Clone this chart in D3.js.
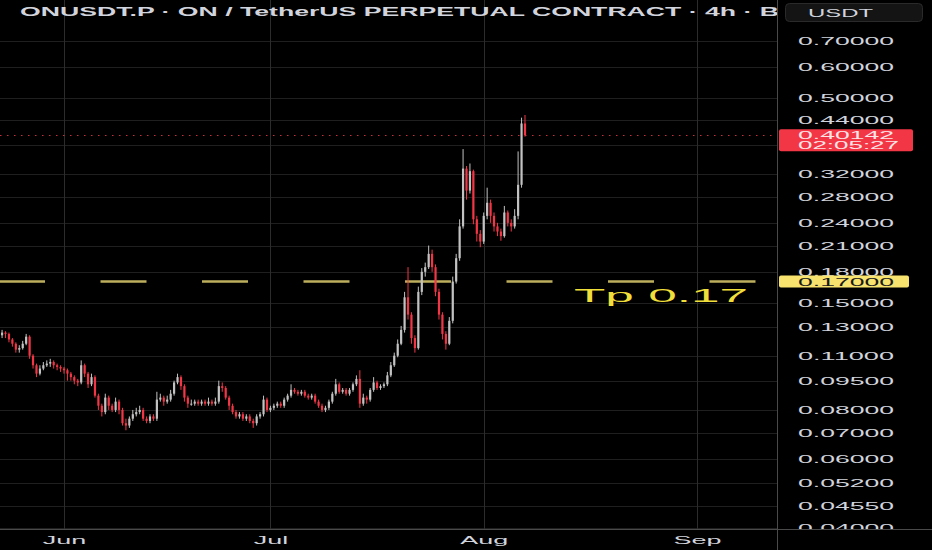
<!DOCTYPE html>
<html><head><meta charset="utf-8">
<script src="https://cdn.jsdelivr.net/npm/d3@7"></script>
<style>html,body{margin:0;padding:0;background:#000;}svg{display:block}</style>
</head><body>
<svg id="c" width="932" height="550"></svg>
<script>
// ---- data ----
const title = "ONUSDT.P · ON / TetherUS PERPETUAL CONTRACT · 4h · B";
const currency = "USDT";
const firstCandle = Date.UTC(2025, 4, 22, 12); // 12h candles
const stepHours = 12;
const firstOpen = 0.122;
const closes = [0.124,0.126,0.125,0.121,0.118,0.114,0.115,0.118,0.123,0.110,
0.104,0.099,0.102,0.104,0.105,0.106,0.104,0.103,0.102,0.101,
0.099,0.097,0.095,0.094,0.104,0.099,0.093,0.097,0.087,0.082,
0.079,0.086,0.082,0.080,0.084,0.080,0.074,0.073,0.076,0.078,
0.079,0.080,0.076,0.075,0.077,0.076,0.085,0.086,0.084,0.085,
0.088,0.094,0.097,0.092,0.086,0.083,0.083,0.084,0.083,0.084,
0.083,0.084,0.083,0.084,0.092,0.091,0.086,0.082,0.079,0.077,
0.078,0.076,0.077,0.075,0.074,0.077,0.078,0.085,0.080,0.081,
0.082,0.083,0.082,0.085,0.087,0.090,0.089,0.088,0.089,0.087,
0.086,0.087,0.084,0.082,0.080,0.081,0.084,0.088,0.093,0.089,
0.090,0.088,0.090,0.093,0.096,0.083,0.086,0.085,0.090,0.094,
0.091,0.092,0.093,0.098,0.104,0.110,0.118,0.128,0.155,0.140,
0.122,0.115,0.160,0.180,0.185,0.200,0.185,0.160,0.140,0.125,
0.118,0.135,0.170,0.195,0.235,0.330,0.290,0.325,0.245,0.225,
0.215,0.250,0.270,0.250,0.235,0.228,0.222,0.255,0.240,0.235,
0.250,0.300,0.430,0.40142];
const highs = [0.128,0.128,0.127,0.126,0.122,0.119,0.117,0.120,0.125,0.124,
0.111,0.105,0.104,0.106,0.107,0.108,0.107,0.105,0.104,0.103,
0.102,0.100,0.098,0.096,0.107,0.105,0.100,0.099,0.098,0.088,
0.083,0.088,0.087,0.083,0.086,0.085,0.081,0.076,0.077,0.080,
0.081,0.082,0.081,0.077,0.078,0.078,0.089,0.088,0.087,0.087,
0.090,0.095,0.099,0.098,0.093,0.087,0.085,0.085,0.085,0.085,
0.085,0.086,0.085,0.086,0.095,0.094,0.092,0.087,0.083,0.080,
0.079,0.079,0.078,0.078,0.076,0.078,0.079,0.087,0.086,0.082,
0.083,0.084,0.084,0.086,0.088,0.093,0.091,0.090,0.090,0.090,
0.088,0.088,0.088,0.085,0.083,0.082,0.085,0.089,0.096,0.094,
0.091,0.091,0.091,0.094,0.098,0.101,0.088,0.087,0.091,0.097,
0.095,0.093,0.094,0.100,0.106,0.112,0.121,0.131,0.160,0.185,
0.142,0.124,0.165,0.184,0.190,0.210,0.205,0.188,0.163,0.142,
0.127,0.138,0.175,0.200,0.245,0.370,0.335,0.340,0.328,0.250,
0.230,0.255,0.295,0.275,0.255,0.240,0.232,0.265,0.258,0.245,
0.260,0.365,0.445,0.452];
const lows = [0.120,0.122,0.122,0.119,0.116,0.112,0.112,0.114,0.117,0.108,
0.102,0.097,0.098,0.101,0.103,0.103,0.102,0.101,0.100,0.099,
0.095,0.095,0.093,0.092,0.093,0.097,0.091,0.092,0.086,0.080,
0.077,0.078,0.080,0.079,0.079,0.078,0.073,0.071,0.072,0.075,
0.077,0.078,0.075,0.074,0.074,0.075,0.075,0.084,0.082,0.083,
0.084,0.087,0.093,0.090,0.084,0.081,0.082,0.082,0.082,0.082,
0.082,0.082,0.082,0.082,0.083,0.089,0.085,0.080,0.078,0.076,
0.076,0.075,0.075,0.074,0.072,0.073,0.076,0.077,0.079,0.079,
0.080,0.081,0.081,0.081,0.084,0.086,0.088,0.087,0.087,0.086,
0.085,0.085,0.083,0.081,0.079,0.079,0.080,0.083,0.087,0.088,
0.088,0.087,0.087,0.089,0.092,0.081,0.082,0.083,0.084,0.089,
0.090,0.090,0.091,0.092,0.097,0.103,0.109,0.117,0.126,0.136,
0.118,0.112,0.114,0.157,0.175,0.183,0.180,0.156,0.136,0.121,
0.114,0.117,0.133,0.168,0.192,0.232,0.275,0.285,0.238,0.215,
0.208,0.212,0.245,0.240,0.228,0.222,0.216,0.220,0.235,0.228,
0.232,0.245,0.295,0.398];
// 0.38 tick sits under the last-price label (its label is hidden there)
const priceTicks = [0.70,0.60,0.50,0.44,0.38,0.32,0.28,0.24,0.21,0.18,0.15,0.13,0.11,0.095,0.08,0.07,0.06,0.052,0.0455,0.04];
const hiddenTicks = [0.38];
const monthTicks = [Date.UTC(2025,5,1), Date.UTC(2025,6,1), Date.UTC(2025,7,1), Date.UTC(2025,8,1)];
const lastPrice = 0.40142;
const countdown = "02:05:27";
const tpLevel = 0.17;
const tpText = "Tp 0.17";

// ---- layout ----
const W = 932, H = 550, plotR = 777, plotB = 529;
const FONT = "Liberation Sans, Arial, sans-serif";
const svg = d3.select("#c");
svg.append("rect").attr("width", W).attr("height", H).attr("fill", "#000");

const x = d3.scaleUtc().domain([monthTicks[0], monthTicks[3]]).range([64, 697]);
const y = d3.scaleLog().domain([0.04, 0.70]).range([528, 40.5]);

const candles = closes.map((c, i) => ({
  t: firstCandle + i * stepHours * 3600e3,
  o: i ? closes[i - 1] : firstOpen, h: highs[i], l: lows[i], c
}));

const defs = svg.append("defs");
defs.append("clipPath").attr("id", "plot").append("rect").attr("x", 0).attr("y", 0).attr("width", plotR).attr("height", plotB);
defs.append("clipPath").attr("id", "axisclip").append("rect").attr("x", plotR).attr("y", 0).attr("width", W - plotR).attr("height", plotB);

// grid
const grid = svg.append("g").attr("clip-path", "url(#plot)");
grid.selectAll("line.h").data(priceTicks).join("line")
  .attr("x1", 0).attr("x2", plotR).attr("y1", d => Math.round(y(d)) + 0.5).attr("y2", d => Math.round(y(d)) + 0.5)
  .attr("stroke", "#1f1f1f").attr("stroke-width", 1);
grid.selectAll("line.v").data(monthTicks).join("line")
  .attr("y1", 0).attr("y2", plotB).attr("x1", d => Math.round(x(d)) + 0.5).attr("x2", d => Math.round(x(d)) + 0.5)
  .attr("stroke", "#2c2c2c").attr("stroke-width", 1);

// tp dashed line
grid.append("line").attr("x1", -1).attr("x2", plotR).attr("y1", y(tpLevel)).attr("y2", y(tpLevel))
  .attr("stroke", "#bcae5c").attr("stroke-width", 2.5).attr("stroke-dasharray", "46,55.5");

// last price dotted line
grid.append("line").attr("x1", 0).attr("x2", plotR).attr("y1", Math.round(y(lastPrice)) + 0.5).attr("y2", Math.round(y(lastPrice)) + 0.5)
  .attr("stroke", "#c8303c").attr("stroke-width", 1).attr("stroke-dasharray", "1.5,5.5");

// candles
const cg = svg.append("g").attr("clip-path", "url(#plot)");
const col = d => d.c >= d.o ? "#c2c2c2" : "#f23645";
cg.selectAll("line.w").data(candles).join("line")
  .attr("x1", d => x(d.t)).attr("x2", d => x(d.t))
  .attr("y1", d => y(d.h)).attr("y2", d => y(d.l))
  .attr("stroke", col).attr("stroke-width", 1);
cg.selectAll("rect.b").data(candles).join("rect")
  .attr("x", d => x(d.t) - 1.1).attr("width", 2.2)
  .attr("y", d => y(Math.max(d.o, d.c)))
  .attr("height", d => Math.max(1, Math.abs(y(d.o) - y(d.c))))
  .attr("fill", col);

// Tp text
svg.append("text").attr("x", 574).attr("y", 302).text(tpText)
  .attr("font-family", FONT).attr("font-size", 18)
  .attr("fill", "#f0de3a").attr("textLength", 174).attr("lengthAdjust", "spacingAndGlyphs");

// separators
svg.append("line").attr("x1", plotR + 0.5).attr("x2", plotR + 0.5).attr("y1", 0).attr("y2", H).attr("stroke", "#4a4a4a");
svg.append("line").attr("x1", 0).attr("x2", W).attr("y1", plotB + 0.5).attr("y2", plotB + 0.5).attr("stroke", "#4a4a4a");

// price axis
const ya = svg.append("g").attr("clip-path", "url(#axisclip)").append("g").attr("transform", `translate(${plotR},0)`)
  .call(d3.axisRight(y).tickValues(priceTicks).tickFormat(d3.format(".5f")).tickSize(0).tickPadding(21));
ya.select(".domain").remove();
ya.selectAll(".tick").filter(d => hiddenTicks.includes(d)).remove();
ya.selectAll("text").attr("fill", "#d1d4dc").attr("font-size", 11)
  .attr("font-family", FONT)
  .attr("textLength", 96).attr("lengthAdjust", "spacingAndGlyphs");

// time axis
const xa = svg.append("g").attr("transform", `translate(0,${plotB})`)
  .call(d3.axisBottom(x).tickValues(monthTicks).tickFormat(d3.utcFormat("%b")).tickSize(0).tickPadding(7));
xa.select(".domain").remove();
xa.selectAll("text").attr("fill", "#d1d4dc").attr("font-size", 11)
  .attr("font-family", FONT)
  .each(function () { const n = this.getComputedTextLength(); d3.select(this).attr("textLength", n * 2.45).attr("lengthAdjust", "spacingAndGlyphs"); });

// tp label (drawn before last price label)
const ty = y(tpLevel);
svg.append("rect").attr("x", 779).attr("y", ty - 6).attr("width", 130).attr("height", 12).attr("rx", 2).attr("fill", "#f7e36e");
svg.append("text").attr("x", 798).attr("y", ty + 4).text(d3.format(".5f")(tpLevel))
  .attr("fill", "#1a1a1a").attr("font-size", 11).attr("font-family", FONT)
  .attr("textLength", 96).attr("lengthAdjust", "spacingAndGlyphs");

// last price label
const ly = y(lastPrice);
svg.append("rect").attr("x", 779).attr("y", ly - 6).attr("width", 134).attr("height", 22).attr("rx", 2).attr("fill", "#f23645");
svg.append("text").attr("x", 798).attr("y", ly + 4).text(d3.format(".5f")(lastPrice))
  .attr("fill", "#ffe4e6").attr("font-size", 11).attr("font-family", FONT)
  .attr("textLength", 96).attr("lengthAdjust", "spacingAndGlyphs");
svg.append("text").attr("x", 798).attr("y", ly + 14).text(countdown)
  .attr("fill", "#ffe4e6").attr("font-size", 11).attr("font-family", FONT)
  .attr("textLength", 101).attr("lengthAdjust", "spacingAndGlyphs");

// title
defs.append("clipPath").attr("id", "titleclip").append("rect").attr("x", 0).attr("y", 0).attr("width", plotR).attr("height", 30);
svg.append("text").attr("clip-path", "url(#titleclip)").attr("x", 20).attr("y", 16).text(title)
  .attr("fill", "#d1d4dc").attr("font-size", 12).attr("font-weight", "bold")
  .attr("font-family", FONT)
  .attr("textLength", 759).attr("lengthAdjust", "spacingAndGlyphs");

// currency box
svg.append("rect").attr("x", 785.5).attr("y", 3.5).attr("width", 137).attr("height", 18).attr("rx", 4)
  .attr("fill", "#141414").attr("stroke", "#2a2a2a");
svg.append("text").attr("x", 808).attr("y", 16.5).text(currency)
  .attr("fill", "#d1d4dc").attr("font-size", 11).attr("font-family", FONT)
  .attr("textLength", 65).attr("lengthAdjust", "spacingAndGlyphs");
</script>
</body></html>
